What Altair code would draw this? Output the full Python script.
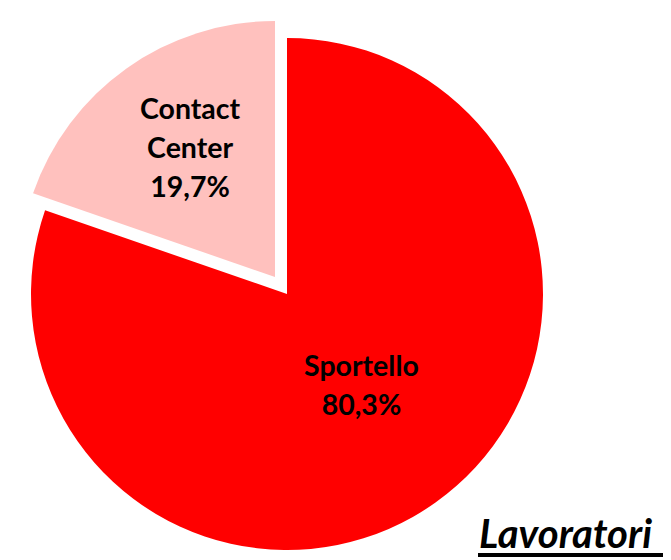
import math
import altair as alt
import pandas as pd

categories = ["Sportello", "Contact Center"]
shares = [80.3, 19.7]
label_lines = ["Sportello\n80,3%", "Contact\nCenter\n19,7%"]
colors = ["#FF0000", "#FFC1BE"]
title_text = "Lavoratori"

df = pd.DataFrame({
    "category": categories,
    "share": shares,
    "label": label_lines,
    "order": list(range(len(categories))),
})

theta_scale = alt.Scale(domain=[0, 100], range=[0, 2 * math.pi])
color_scale = alt.Scale(domain=categories, range=colors)

base = (
    alt.Chart(df)
    .transform_window(end="sum(share)", sort=[{"field": "order"}], frame=[None, 0])
    .transform_calculate(start="datum.end - datum.share", mid="datum.end - datum.share / 2")
)

FONT = "Lato"


def slice_layer(cat, cx, cy, label_r, ldx, ldy):
    b = base.transform_filter(alt.datum.category == cat)
    arc = b.mark_arc(radius=256, strokeWidth=0).encode(
        theta=alt.Theta("start:Q", scale=theta_scale),
        theta2="end:Q",
        color=alt.Color("category:N", scale=color_scale, legend=None),
        x=alt.value(cx),
        y=alt.value(cy),
    )
    txt = b.mark_text(
        radius=label_r, font=FONT, fontSize=28.5, fontWeight="bold", color="black",
        lineBreak="\n", lineHeight=39, align="center", baseline="middle", dx=ldx, dy=ldy,
    ).encode(
        theta=alt.Theta("mid:Q", scale=theta_scale),
        text="label:N",
        x=alt.value(cx),
        y=alt.value(cy),
    )
    return arc, txt


a1, t1 = slice_layer("Sportello", 279, 286, 118, 6, -23)
a2, t2 = slice_layer("Contact Center", 267, 269, 155, 5, -41)

title = alt.Chart(pd.DataFrame({"t": [title_text]})).mark_text(
    font=FONT, fontSize=40, fontWeight="bold", fontStyle="italic", color="black",
    align="left", baseline="alphabetic",
).encode(text="t:N", x=alt.value(471), y=alt.value(540))

underline = alt.Chart(pd.DataFrame({"t": [title_text]})).mark_rule(
    color="black", strokeWidth=4
).encode(x=alt.value(470), x2=alt.value(660), y=alt.value(547))

chart = alt.layer(a1, a2, t1, t2, title, underline).properties(
    width=655, height=552, padding=0, autosize=alt.AutoSizeParams(type="none")
).configure_view(stroke=None)

chart.save("out.html", embed_options={"renderer": "svg", "actions": False})
